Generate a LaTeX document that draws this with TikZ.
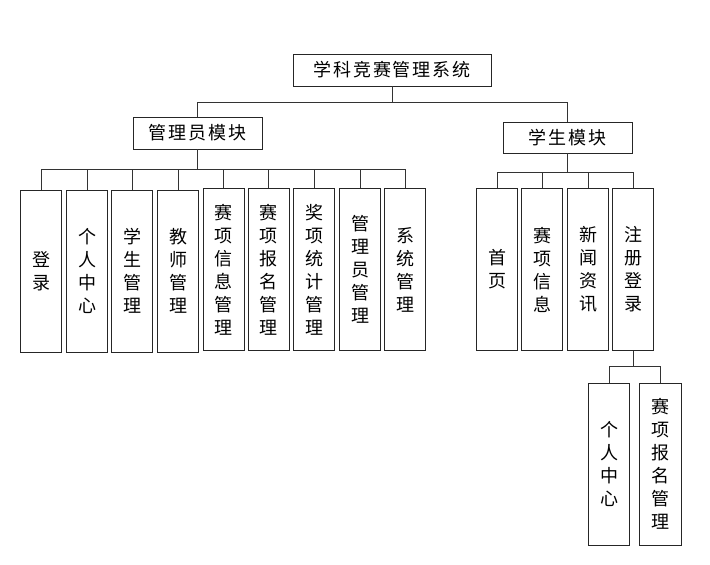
\documentclass[tikz,border=0pt]{standalone}
\usepackage{fontspec}
\newfontfamily\cjk{Noto Sans CJK SC}
\newfontfamily\cjkls{Noto Sans CJK SC}[LetterSpace=10]
\begin{document}
\begin{tikzpicture}[x=0.75pt,y=-0.75pt,
  hbox/.style={draw=black!85,line width=0.7pt,fill=white,font=\cjkls\fontsize{13.5pt}{17pt}\selectfont,inner sep=0pt},
  vbox/.style={draw=black!85,line width=0.7pt,fill=white,align=center,font=\cjk\fontsize{13.5pt}{17.25pt}\selectfont,inner sep=0pt,minimum width=30.75pt,minimum height=121.5pt},
  link/.style={draw=black!80,line width=0.7pt}]
\useasboundingbox (0,0) rectangle (710,564);
% heads
\node[hbox,minimum width=148.5pt,minimum height=24pt] (top) at (392,70) {学科竞赛管理系统};
\node[hbox,minimum width=96.75pt,minimum height=24pt] (adm) at (197.5,133) {管理员模块};
\node[hbox,minimum width=96.75pt,minimum height=23.25pt] (stu) at (567.5,137.5) {学生模块};
% bus levels
\coordinate (b0) at (0,102);
\coordinate (b1) at (0,169);
\coordinate (b2) at (0,172);
\coordinate (b3) at (0,366);
% admin children
\node[vbox] (a1) at (41,271) {登\\录};
\node[vbox] (a2) at (87,271) {个\\人\\中\\心};
\node[vbox] (a3) at (132,271) {学\\生\\管\\理};
\node[vbox] (a4) at (178,271) {教\\师\\管\\理};
\node[vbox] (a5) at (223.5,269.5) {赛\\项\\信\\息\\管\\理};
\node[vbox] (a6) at (268.5,269.5) {赛\\项\\报\\名\\管\\理};
\node[vbox] (a7) at (314,269.5) {奖\\项\\统\\计\\管\\理};
\node[vbox] (a8) at (360,269.5) {管\\理\\员\\管\\理};
\node[vbox] (a9) at (405,269.5) {系\\统\\管\\理};
% student children
\node[vbox] (s1) at (497,269.5) {首\\页};
\node[vbox] (s2) at (542,269.5) {赛\\项\\信\\息};
\node[vbox] (s3) at (588,269.5) {新\\闻\\资\\讯};
\node[vbox] (s4) at (633,269.5) {注\\册\\登\\录};
% sub children
\node[vbox] (r1) at (609,464) {个\\人\\中\\心};
\node[vbox,minimum width=31.5pt] (r2) at (660,464) {赛\\项\\报\\名\\管\\理};
% links
\foreach \c in {adm,stu}{\draw[link] (top.south) -- (top.south |- b0) -| (\c.north);}
\foreach \c in {a1,a2,a3,a4,a5,a6,a7,a8,a9}{\draw[link] (adm.south) -- (adm.south |- b1) -| (\c.north);}
\foreach \c in {s1,s2,s3,s4}{\draw[link] (stu.south) -- (stu.south |- b2) -| (\c.north);}
\foreach \c in {r1,r2}{\draw[link] (s4.south) -- (s4.south |- b3) -| (\c.north);}
\end{tikzpicture}
\end{document}
